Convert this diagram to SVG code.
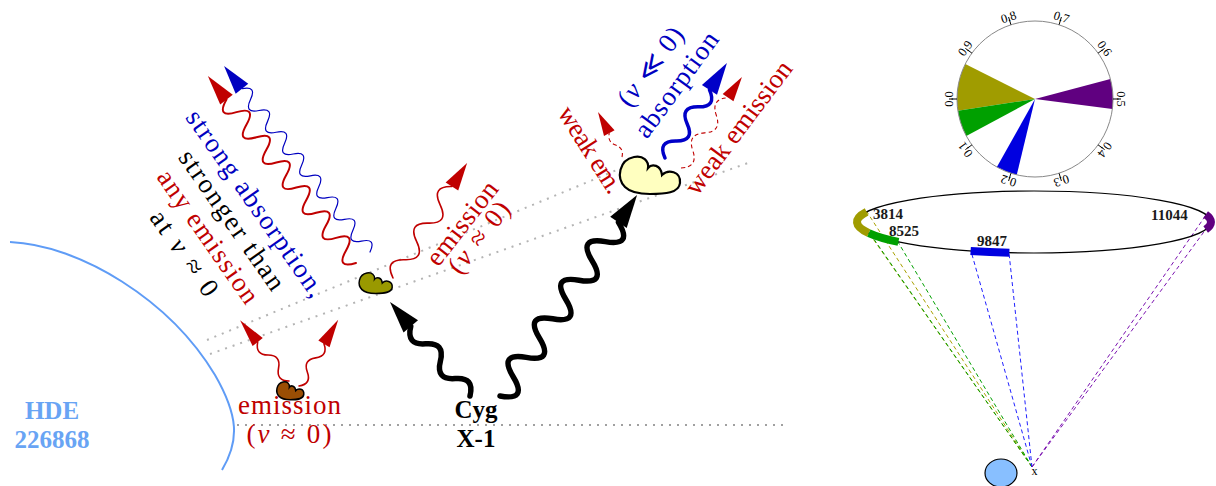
<svg xmlns="http://www.w3.org/2000/svg" width="1216" height="486" viewBox="0 0 1216 486">
  <style>
    .serif { font-family: "Liberation Serif", "DejaVu Serif", serif; }
    .lbl { font-size: 27px; text-anchor: middle; }
    .bold { font-weight: bold; }
    .it { font-style: italic; }
    .red { fill: #c00000; }
    .blue { fill: #0000c0; }
    .black { fill: #000; }
    .sky { fill: #68a4f4; }
    .dot { fill: none; stroke: #b4b4b4; stroke-width: 2; stroke-dasharray: 2 6; }
    .dot-axis { fill: none; stroke: #a0a0a0; stroke-width: 2; stroke-dasharray: 2 6; }
    .w-red { fill: none; stroke: #c00000; stroke-width: 1.6; stroke-linecap: round; }
    .w-red-thick { fill: none; stroke: #c00000; stroke-width: 2; stroke-linecap: round; }
    .w-blue-thin { fill: none; stroke: #0000c0; stroke-width: 1.2; stroke-linecap: round; }
    .w-blue { fill: none; stroke: #0000c8; stroke-width: 3.5; stroke-linecap: round; }
    .w-black { fill: none; stroke: #000; stroke-width: 5.5; stroke-linecap: round; stroke-linejoin: round; }
    .w-red-dash { fill: none; stroke: #c00000; stroke-width: 1.1; stroke-dasharray: 4 3; }
    .sight { fill: none; stroke-width: 1; stroke-dasharray: 4 3; }
    .cloud { stroke: #000; }
    .tick { stroke: #000; stroke-width: 1; }
    .tlbl { font-size: 12.5px; text-anchor: middle; fill: #000; }
    .ring-lbl { font-size: 15px; font-weight: bold; fill: #1a1a1a; }
  </style>
  <defs>
    <!-- clump outline, local box about 65 x 39 -->
    <path id="clump" d="M9,32 C0,23 3,5 18,2 C27,0 33,6 32,13 C36,8 45,10 46,20 C52,14 65,16 64,28 C63,38 49,39 34,39 C22,39 14,37 9,32 Z"/>
  </defs>

  <rect width="1216" height="486" fill="#fff"/>

  <!-- lines of sight and photon paths -->
  <g id="connectors">
    <line class="dot" x1="207" y1="340" x2="624" y2="167"/>
    <line class="dot" x1="210" y1="354" x2="748" y2="163"/>
    <line class="dot-axis" x1="237" y1="425" x2="785" y2="425"/>

    <!-- emission from the brown clump -->
    <g transform="translate(289,381) rotate(-128.8)">
      <path class="w-red" d="M0,0 Q8.33,-10 16.67,0 T33.33,0 T50,0"/>
      <polygon class="red" points="50,-6.5 78,0 50,6.5"/>
    </g>
    <g transform="translate(299,386) rotate(-59.4)">
      <path class="w-red" d="M0,0 Q8.17,10 16.33,0 T32.67,0 T49,0"/>
      <polygon class="red" points="49,-6.5 77,0 49,6.5"/>
    </g>

    <!-- emission from the olive clump -->
    <g transform="translate(393,278) rotate(-57.2)">
      <path class="w-red" d="M0,0 Q10.88,-18 21.76,0 T43.52,0 T65.28,0 T87.04,0 T108.8,0"/>
      <polygon class="red" points="108.8,-7.5 136.8,0 108.8,7.5"/>
    </g>

    <!-- strong absorption pair -->
    <g transform="translate(356,263) rotate(-128.4)">
      <path class="w-red-thick" d="M0,0 Q8.02,-20 16.04,0 T32.08,0 T48.12,0 T64.16,0 T80.2,0 T96.24,0 T112.28,0 T128.32,0 T144.36,0 T160.4,0 T176.44,0 T192.48,0 T208.52,0"/>
      <polygon class="red" points="208.5,-8 238.5,0 208.5,8"/>
    </g>
    <g transform="translate(370,252) rotate(-128.1)">
      <path class="w-blue-thin" d="M0,0 Q6.92,14 13.83,0 T27.67,0 T41.5,0 T55.33,0 T69.17,0 T83,0 T96.83,0 T110.67,0 T124.5,0 T138.33,0 T152.17,0 T166,0 T179.83,0 T193.67,0 T207.5,0"/>
      <polygon class="blue" points="207.5,-8 236.5,0 207.5,8"/>
    </g>

    <!-- X-rays from the compact object -->
    <g transform="translate(470,396) rotate(-130.4)">
      <path class="w-black" d="M0,0 Q11.43,16 22.85,0 T45.7,0 T68.55,0 T91.4,0"/>
      <polygon class="black" points="91.4,-9.5 123.4,0 91.4,9.5"/>
    </g>
    <g transform="translate(500,396) rotate(-55.7)">
      <path class="w-black" d="M0,0 Q11.68,26 23.36,0 T46.72,0 T70.08,0 T93.44,0 T116.8,0 T140.16,0 T163.52,0 T186.88,0 T210.24,0"/>
      <polygon class="black" points="210.2,-10 243.2,0 210.2,10"/>
    </g>

    <!-- absorption and weak emission at the yellow clump -->
    <g transform="translate(665,158) rotate(-56.9)">
      <path class="w-blue" d="M0,0 Q10.18,-16 20.35,0 T40.7,0 T61.05,0 T81.4,0"/>
      <polygon fill="#0000c8" points="81.4,-9 113.4,0 81.4,9"/>
    </g>
    <g transform="translate(622,157) rotate(-118.1)">
      <path class="w-red-dash" d="M0,0 Q6.75,6 13.5,0 T27,0"/>
      <polygon class="red" points="27,-6 51,0 27,6"/>
    </g>
    <g transform="translate(681,168) rotate(-56.2)">
      <path class="w-red-dash" d="M0,0 Q10.58,14 21.15,0 T42.3,0 T63.45,0 T84.6,0"/>
      <polygon class="red" points="84.6,-6.5 109.6,0 84.6,6.5"/>
    </g>

    <!-- sight lines from the compact object to the orbit arcs -->
    <g class="sight">
      <line stroke="#a8a000" x1="1032" y1="467" x2="867" y2="212"/>
      <line stroke="#a8a000" x1="1032" y1="467" x2="869" y2="233"/>
      <line stroke="#00a000" x1="1032" y1="467" x2="871" y2="235"/>
      <line stroke="#00a000" x1="1032" y1="467" x2="898" y2="242"/>
      <line stroke="#2020ff" x1="1032" y1="467" x2="971" y2="251"/>
      <line stroke="#2020ff" x1="1032" y1="467" x2="1009" y2="253"/>
      <line stroke="#7a10b0" x1="1032" y1="467" x2="1206" y2="215"/>
      <line stroke="#7a10b0" x1="1032" y1="467" x2="1206" y2="229"/>
    </g>
  </g>

  <!-- supergiant limb -->
  <g id="hde226868">
    <path d="M10,242 C80,245 170,300 215,375 C238,415 240,440 222,470" fill="none" stroke="#5f9cf6" stroke-width="2"/>
    <text class="serif bold sky" font-size="25" text-anchor="middle" x="52" y="419">HDE<tspan x="52" y="448">226868</tspan></text>
  </g>

  <g id="cygx1">
    <text class="serif bold black" font-size="25" text-anchor="middle" x="476" y="418">Cyg<tspan x="476" y="447">X-1</tspan></text>
  </g>

  <!-- wind clumps -->
  <g id="clump-brown">
    <use href="#clump" class="cloud" fill="#9a4e04" stroke-width="3.3" transform="translate(275,381) scale(0.45,0.48)"/>
  </g>
  <g id="clump-olive">
    <use href="#clump" class="cloud" fill="#999900" stroke-width="2.7" transform="translate(357,272) scale(0.55)"/>
  </g>
  <g id="clump-yellow">
    <use href="#clump" class="cloud" fill="#ffffc0" stroke-width="2.2" transform="translate(616,155)"/>
  </g>

  <!-- labels -->
  <g id="label-low-emission" class="serif red" font-size="27" text-anchor="middle">
    <text x="290" y="414"><tspan letter-spacing="1">emission</tspan><tspan x="290" y="443" letter-spacing="2.2">(<tspan class="it">v</tspan> ≈ 0)</tspan></text>
  </g>

  <g id="label-strong-absorption" class="serif lbl" transform="translate(219,229) rotate(55)">
    <text class="blue" x="0" y="-36" textLength="222">strong absorption,</text>
    <text class="black" x="0" y="-7" textLength="165">stronger than</text>
    <text class="red" x="0" y="22" textLength="157">any emission</text>
    <text class="black" x="0" y="51" textLength="99">at <tspan class="it">v</tspan> ≈ 0</text>
  </g>

  <g id="label-mid-emission" class="serif lbl red" transform="translate(471,230) rotate(-52)">
    <text x="0" y="-2.5"><tspan letter-spacing="0.5">emission</tspan><tspan x="0" y="19.5" letter-spacing="2">(<tspan class="it">v</tspan> ≈ 0)</tspan></text>
  </g>

  <g id="label-weak-em" class="serif lbl red" font-size="26" transform="translate(590,150) rotate(57.6)">
    <text x="0" y="8" textLength="98">weak em.</text>
  </g>

  <g id="label-absorption" class="serif lbl blue">
    <text transform="translate(651,67) rotate(-53)" x="0" y="8" textLength="92">(<tspan class="it">v</tspan> ≪ 0)</text>
    <text transform="translate(677,85) rotate(-54)" x="0" y="8" textLength="124">absorption</text>
  </g>

  <g id="label-weak-emission" class="serif lbl red" font-size="26" transform="translate(739,128) rotate(-53)">
    <text x="0" y="8" textLength="160">weak emission</text>
  </g>

  <!-- orbital phase dial -->
  <g id="phase-dial">
    <path d="M1035,99 L965.3,64.1 A78,78 0 0 0 957.9,110.7 Z" fill="#a09c00"/>
    <path d="M1035,99 L957.9,110.7 A78,78 0 0 0 966.3,135.9 Z" fill="#00a000"/>
    <path d="M1035,99 L996.9,167.1 A78,78 0 0 0 1016.8,174.8 Z" fill="#0000e0"/>
    <path d="M1035,99 L1112.4,109.0 A78,78 0 0 0 1110.4,78.9 Z" fill="#600080"/>
    <circle cx="1035" cy="99" r="78" fill="none" stroke="#888" stroke-width="1"/>
    <g class="tick">
      <line x1="957" y1="99" x2="949" y2="99"/>
      <line x1="971.9" y1="144.9" x2="965.4" y2="149.6"/>
      <line x1="1010.9" y1="173.3" x2="1008.6" y2="181"/>
      <line x1="1059.1" y1="173.3" x2="1061.4" y2="181"/>
      <line x1="1098.1" y1="144.9" x2="1104.6" y2="149.6"/>
      <line x1="1113" y1="99" x2="1121" y2="99"/>
      <line x1="1098.1" y1="53.1" x2="1104.6" y2="48.4"/>
      <line x1="1059.1" y1="24.7" x2="1061.4" y2="17"/>
      <line x1="1010.9" y1="24.7" x2="1008.6" y2="17"/>
      <line x1="971.9" y1="53.1" x2="965.4" y2="48.4"/>
    </g>
    <g class="serif tlbl">
      <text transform="translate(949,99) rotate(-90)" y="4">0.0</text>
      <text transform="translate(965.4,149.6) rotate(-126)" y="4">0.1</text>
      <text transform="translate(1008.6,180.7) rotate(-162)" y="4">0.2</text>
      <text transform="translate(1061.4,180.7) rotate(162)" y="4">0.3</text>
      <text transform="translate(1104.6,149.6) rotate(126)" y="4">0.4</text>
      <text transform="translate(1121,99) rotate(90)" y="4">0.5</text>
      <text transform="translate(1104.6,48.4) rotate(54)" y="4">0.6</text>
      <text transform="translate(1061.4,17.3) rotate(18)" y="4">0.7</text>
      <text transform="translate(1008.6,17.3) rotate(-18)" y="4">0.8</text>
      <text transform="translate(965.4,48.4) rotate(-54)" y="4">0.9</text>
    </g>
  </g>

  <!-- orbit seen in projection, with phase coverage -->
  <g id="orbit">
    <ellipse cx="1034" cy="222" rx="177" ry="31" fill="none" stroke="#000" stroke-width="1.2"/>
    <path d="M866.6,211.9 A177,31 0 0 0 868.8,233.1" fill="none" stroke="#a09c00" stroke-width="8"/>
    <path d="M868.8,233.1 A177,31 0 0 0 898.4,241.9" fill="none" stroke="#00a000" stroke-width="8"/>
    <path d="M970.6,250.9 A177,31 0 0 0 1009.4,252.7" fill="none" stroke="#0000e0" stroke-width="8"/>
    <path d="M1205.7,229.5 A177,31 0 0 0 1205.7,214.5" fill="none" stroke="#600080" stroke-width="8"/>
    <g class="serif ring-lbl">
      <text x="873" y="219">3814</text>
      <text x="889" y="236">8525</text>
      <text x="977" y="246">9847</text>
      <text x="1151" y="220">11044</text>
    </g>
  </g>

  <!-- system seen from above -->
  <g id="star-top">
    <ellipse cx="1001" cy="473" rx="16" ry="14" fill="#88bfff" stroke="#000" stroke-width="1.2"/>
  </g>
  <g id="compact-object">
    <text class="serif" font-size="12" text-anchor="middle" x="1034.5" y="475">x</text>
  </g>
</svg>
